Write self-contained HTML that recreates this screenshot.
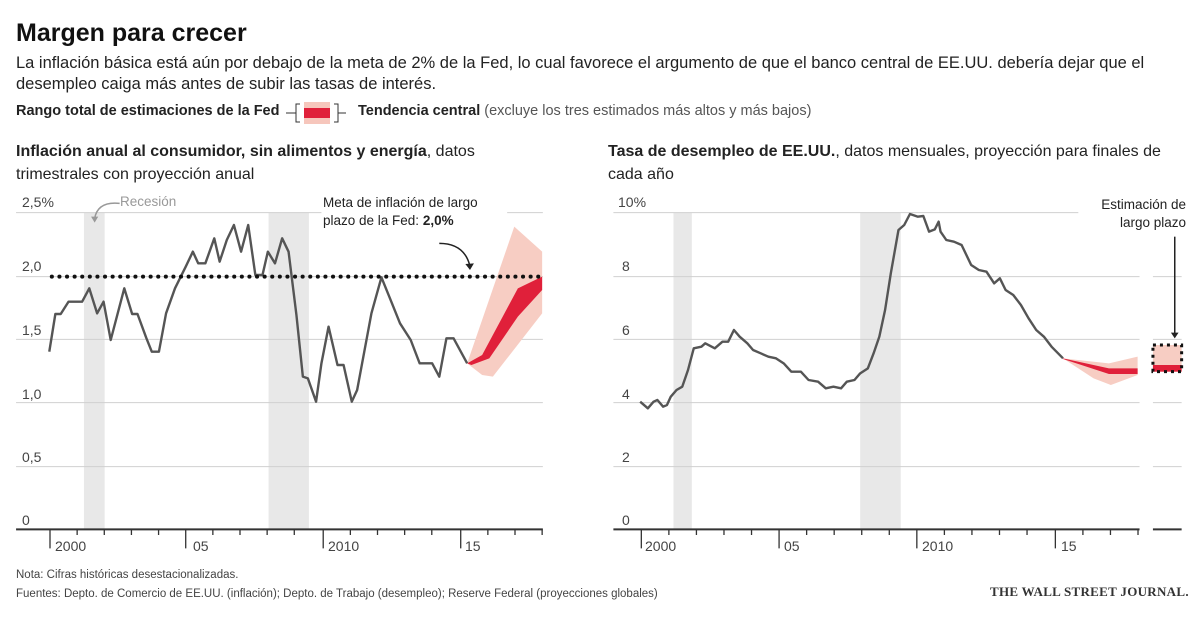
<!DOCTYPE html>
<html><head><meta charset="utf-8"><style>
body{margin:0;width:1200px;height:630px;background:#fff;position:relative;overflow:hidden;font-family:"Liberation Sans Narrow","Liberation Sans",sans-serif;color:#222}
.t{position:absolute;white-space:nowrap}
svg{position:absolute}
.ax{font-size:14px;color:#444}
</style></head><body>
<div class="t" style="left:16px;top:19px;font-size:25px;font-weight:bold;color:#111">Margen para crecer</div>
<div class="t" style="left:16px;top:53px;font-size:16.5px;line-height:21px">La inflación básica está aún por debajo de la meta de 2% de la Fed, lo cual favorece el argumento de que el banco central de EE.UU. debería dejar que el<br>desempleo caiga más antes de subir las tasas de interés.</div>
<div class="t" style="left:16px;top:103px;font-size:14.5px"><b>Rango total de estimaciones de la Fed</b></div>
<svg style="left:286px;top:100px" width="80" height="26"><path d="M0 13H8M14 4H10V22H14M8 13H10" stroke="#333" fill="none"/><rect x="18" y="2" width="26" height="22" fill="#f6c6bc"/><rect x="18" y="8" width="26" height="10" fill="#e0203a"/><path d="M48 4H52V22H48M52 13H60" stroke="#333" fill="none"/></svg>
<div class="t" style="left:358px;top:103px;font-size:14.5px"><b>Tendencia central</b> <span style="color:#555">(excluye los tres estimados más altos y más bajos)</span></div>
<div class="t" style="left:16px;top:140px;font-size:16px;line-height:23px"><b>Inflación anual al consumidor, sin alimentos y energía</b>, datos<br>trimestrales con proyección anual</div>
<div class="t" style="left:608px;top:140px;font-size:16px;line-height:23px"><b>Tasa de desempleo de EE.UU.</b>, datos mensuales, proyección para finales de<br>cada año</div>

<svg style="left:0;top:190px" width="560" height="370" viewBox="0 0 1568 1110" preserveAspectRatio="none">
<g stroke="#d0d0d0" stroke-width="1" vector-effect="non-scaling-stroke">
<rect x="235" y="68" width="58" height="950" fill="#e8e8e8" stroke="none"/>
<rect x="752" y="68" width="113" height="950" fill="#e8e8e8" stroke="none"/>
<path d="M45 68H900M1420 68H1520M45 448H1520M45 638H1520M45 830H1520M45 260H1520" vector-effect="non-scaling-stroke"/>
</g>
<path d="M1308 520L1440 110L1518 185L1518 370L1380 560L1350 555Z" fill="#f7cdc3"/>
<path d="M1308 520L1350 495L1450 295L1518 260L1518 300L1450 380L1370 505L1320 525Z" fill="#e0203a"/>
<polyline fill="none" stroke="#555" stroke-width="2.4" vector-effect="non-scaling-stroke" stroke-linejoin="round" points="138,485 155,372 170,372 192,335 230,335 250,295 272,370 290,335 310,450 348,295 370,372 385,372 410,445 425,485 445,485 465,370 490,295 520,230 540,185 555,220 575,220 600,145 615,215 635,150 655,105 675,185 695,105 715,255 735,255 750,185 770,220 790,145 808,185 830,375 848,560 862,565 885,635 900,520 920,410 945,525 962,525 985,635 1000,600 1040,370 1068,262 1090,320 1120,400 1150,450 1175,520 1210,520 1230,560 1250,445 1270,445 1308,520"/>
<path d="M145 260H1520" stroke="#111" stroke-width="4" stroke-dasharray="0.1 7.5" stroke-linecap="round" vector-effect="non-scaling-stroke" fill="none"/>
<path d="M45 1018H1520" stroke="#333" stroke-width="2" vector-effect="non-scaling-stroke"/>
<g stroke="#333" stroke-width="1.3" vector-effect="non-scaling-stroke">
<path vector-effect="non-scaling-stroke" d="M140 1018V1075M520 1018V1075M905 1018V1075M1290 1018V1075M216 1018V1035M292 1018V1035M368 1018V1035M444 1018V1035M596 1018V1035M672 1018V1035M748 1018V1035M824 1018V1035M981 1018V1035M1057 1018V1035M1133 1018V1035M1209 1018V1035M1366 1018V1035M1442 1018V1035M1518 1018V1035"/>
</g>
<path d="M335 40C290 35 270 55 265 85" stroke="#999" fill="none" stroke-width="1.5" vector-effect="non-scaling-stroke"/>
<path d="M255 80L265 98L275 80Z" fill="#999"/>
<path d="M1230 160C1280 160 1305 185 1315 225" stroke="#222" fill="none" stroke-width="1.5" vector-effect="non-scaling-stroke"/>
<path d="M1303 222L1316 240L1327 220Z" fill="#222"/>
</svg>
<div class="t ax" style="left:22px;top:194px">2,5%</div>
<div class="t ax" style="left:22px;top:258px">2,0</div>
<div class="t ax" style="left:22px;top:322px">1,5</div>
<div class="t ax" style="left:22px;top:386px">1,0</div>
<div class="t ax" style="left:22px;top:449px">0,5</div>
<div class="t ax" style="left:22px;top:512px">0</div>
<div class="t ax" style="left:55px;top:538px">2000</div>
<div class="t ax" style="left:193px;top:538px">05</div>
<div class="t ax" style="left:328px;top:538px">2010</div>
<div class="t ax" style="left:465px;top:538px">15</div>
<div class="t" style="left:120px;top:194px;font-size:13.5px;color:#999">Recesión</div>
<div class="t" style="left:323px;top:194px;font-size:13.5px;line-height:18px;color:#222">Meta de inflación de largo<br>plazo de la Fed: <b>2,0%</b></div>

<svg style="left:600px;top:190px" width="600" height="370" viewBox="0 0 1568 1110" preserveAspectRatio="none">
<rect x="192" y="68" width="48" height="950" fill="#e8e8e8"/>
<rect x="680" y="68" width="106" height="950" fill="#e8e8e8"/>
<path d="M35 68H1250M35 260H1410M35 448H1410M35 638H1410M35 830H1410M1445 260H1520M1445 448H1520M1445 638H1520M1445 830H1520" stroke="#d0d0d0" vector-effect="non-scaling-stroke"/>
<path d="M1210 505L1290 565L1335 585L1405 555L1405 500L1330 520Z" fill="#f7cdc3"/>
<path d="M1210 505L1330 535L1405 535L1405 552L1330 552L1210 507Z" fill="#e0203a"/>
<polyline fill="none" stroke="#555" stroke-width="2.4" vector-effect="non-scaling-stroke" stroke-linejoin="round" points="105,635 125,655 140,635 150,630 165,650 175,645 185,620 200,600 215,590 230,540 245,475 265,470 275,460 300,475 320,455 335,455 350,420 365,440 385,460 400,480 420,490 440,500 460,505 480,520 500,545 525,545 545,570 570,575 590,595 610,590 630,595 645,575 665,570 680,550 700,535 715,490 730,440 745,360 760,250 780,120 795,105 810,72 830,80 845,78 860,125 875,118 885,95 890,125 905,150 925,155 945,165 970,225 990,240 1010,245 1030,280 1045,265 1060,300 1080,315 1100,345 1120,385 1140,420 1160,440 1180,470 1210,505"/>
<rect x="1445" y="465" width="75" height="80" fill="#f7cdc3"/>
<rect x="1445" y="525" width="75" height="20" fill="#e0203a"/>
<rect x="1445" y="465" width="75" height="80" fill="none" stroke="#111" stroke-width="3" stroke-dasharray="3 4" vector-effect="non-scaling-stroke"/>
<path d="M1502 140V435" stroke="#222" stroke-width="1.5" vector-effect="non-scaling-stroke"/>
<path d="M1492 428L1502 445L1512 428Z" fill="#222"/>
<path d="M35 1018H1410M1445 1018H1520" stroke="#333" stroke-width="2" vector-effect="non-scaling-stroke"/>
<path vector-effect="non-scaling-stroke" stroke="#333" stroke-width="1.3" d="M108 1018V1075M468 1018V1075M828 1018V1075M1190 1018V1075M180 1018V1035M252 1018V1035M324 1018V1035M396 1018V1035M540 1018V1035M612 1018V1035M684 1018V1035M756 1018V1035M900 1018V1035M972 1018V1035M1044 1018V1035M1116 1018V1035M1262 1018V1035M1334 1018V1035M1406 1018V1035"/>
</svg>
<div class="t ax" style="left:618px;top:194px">10%</div>
<div class="t ax" style="left:622px;top:258px">8</div>
<div class="t ax" style="left:622px;top:322px">6</div>
<div class="t ax" style="left:622px;top:386px">4</div>
<div class="t ax" style="left:622px;top:449px">2</div>
<div class="t ax" style="left:622px;top:512px">0</div>
<div class="t ax" style="left:645px;top:538px">2000</div>
<div class="t ax" style="left:784px;top:538px">05</div>
<div class="t ax" style="left:922px;top:538px">2010</div>
<div class="t ax" style="left:1061px;top:538px">15</div>
<div class="t" style="left:1092px;top:196px;font-size:13.5px;line-height:18px;text-align:right;width:94px">Estimación de<br>largo plazo</div>

<div class="t" style="left:16px;top:566px;font-size:11.5px;line-height:19px;color:#444">Nota: Cifras históricas desestacionalizadas.<br>Fuentes: Depto. de Comercio de EE.UU. (inflación); Depto. de Trabajo (desempleo); Reserve Federal (proyecciones globales)</div>
<div class="t" style="left:990px;top:584px;font-size:13px;font-family:'Liberation Serif',serif;font-weight:bold;color:#333;letter-spacing:0.3px">THE WALL STREET JOURNAL.</div>
</body></html>
